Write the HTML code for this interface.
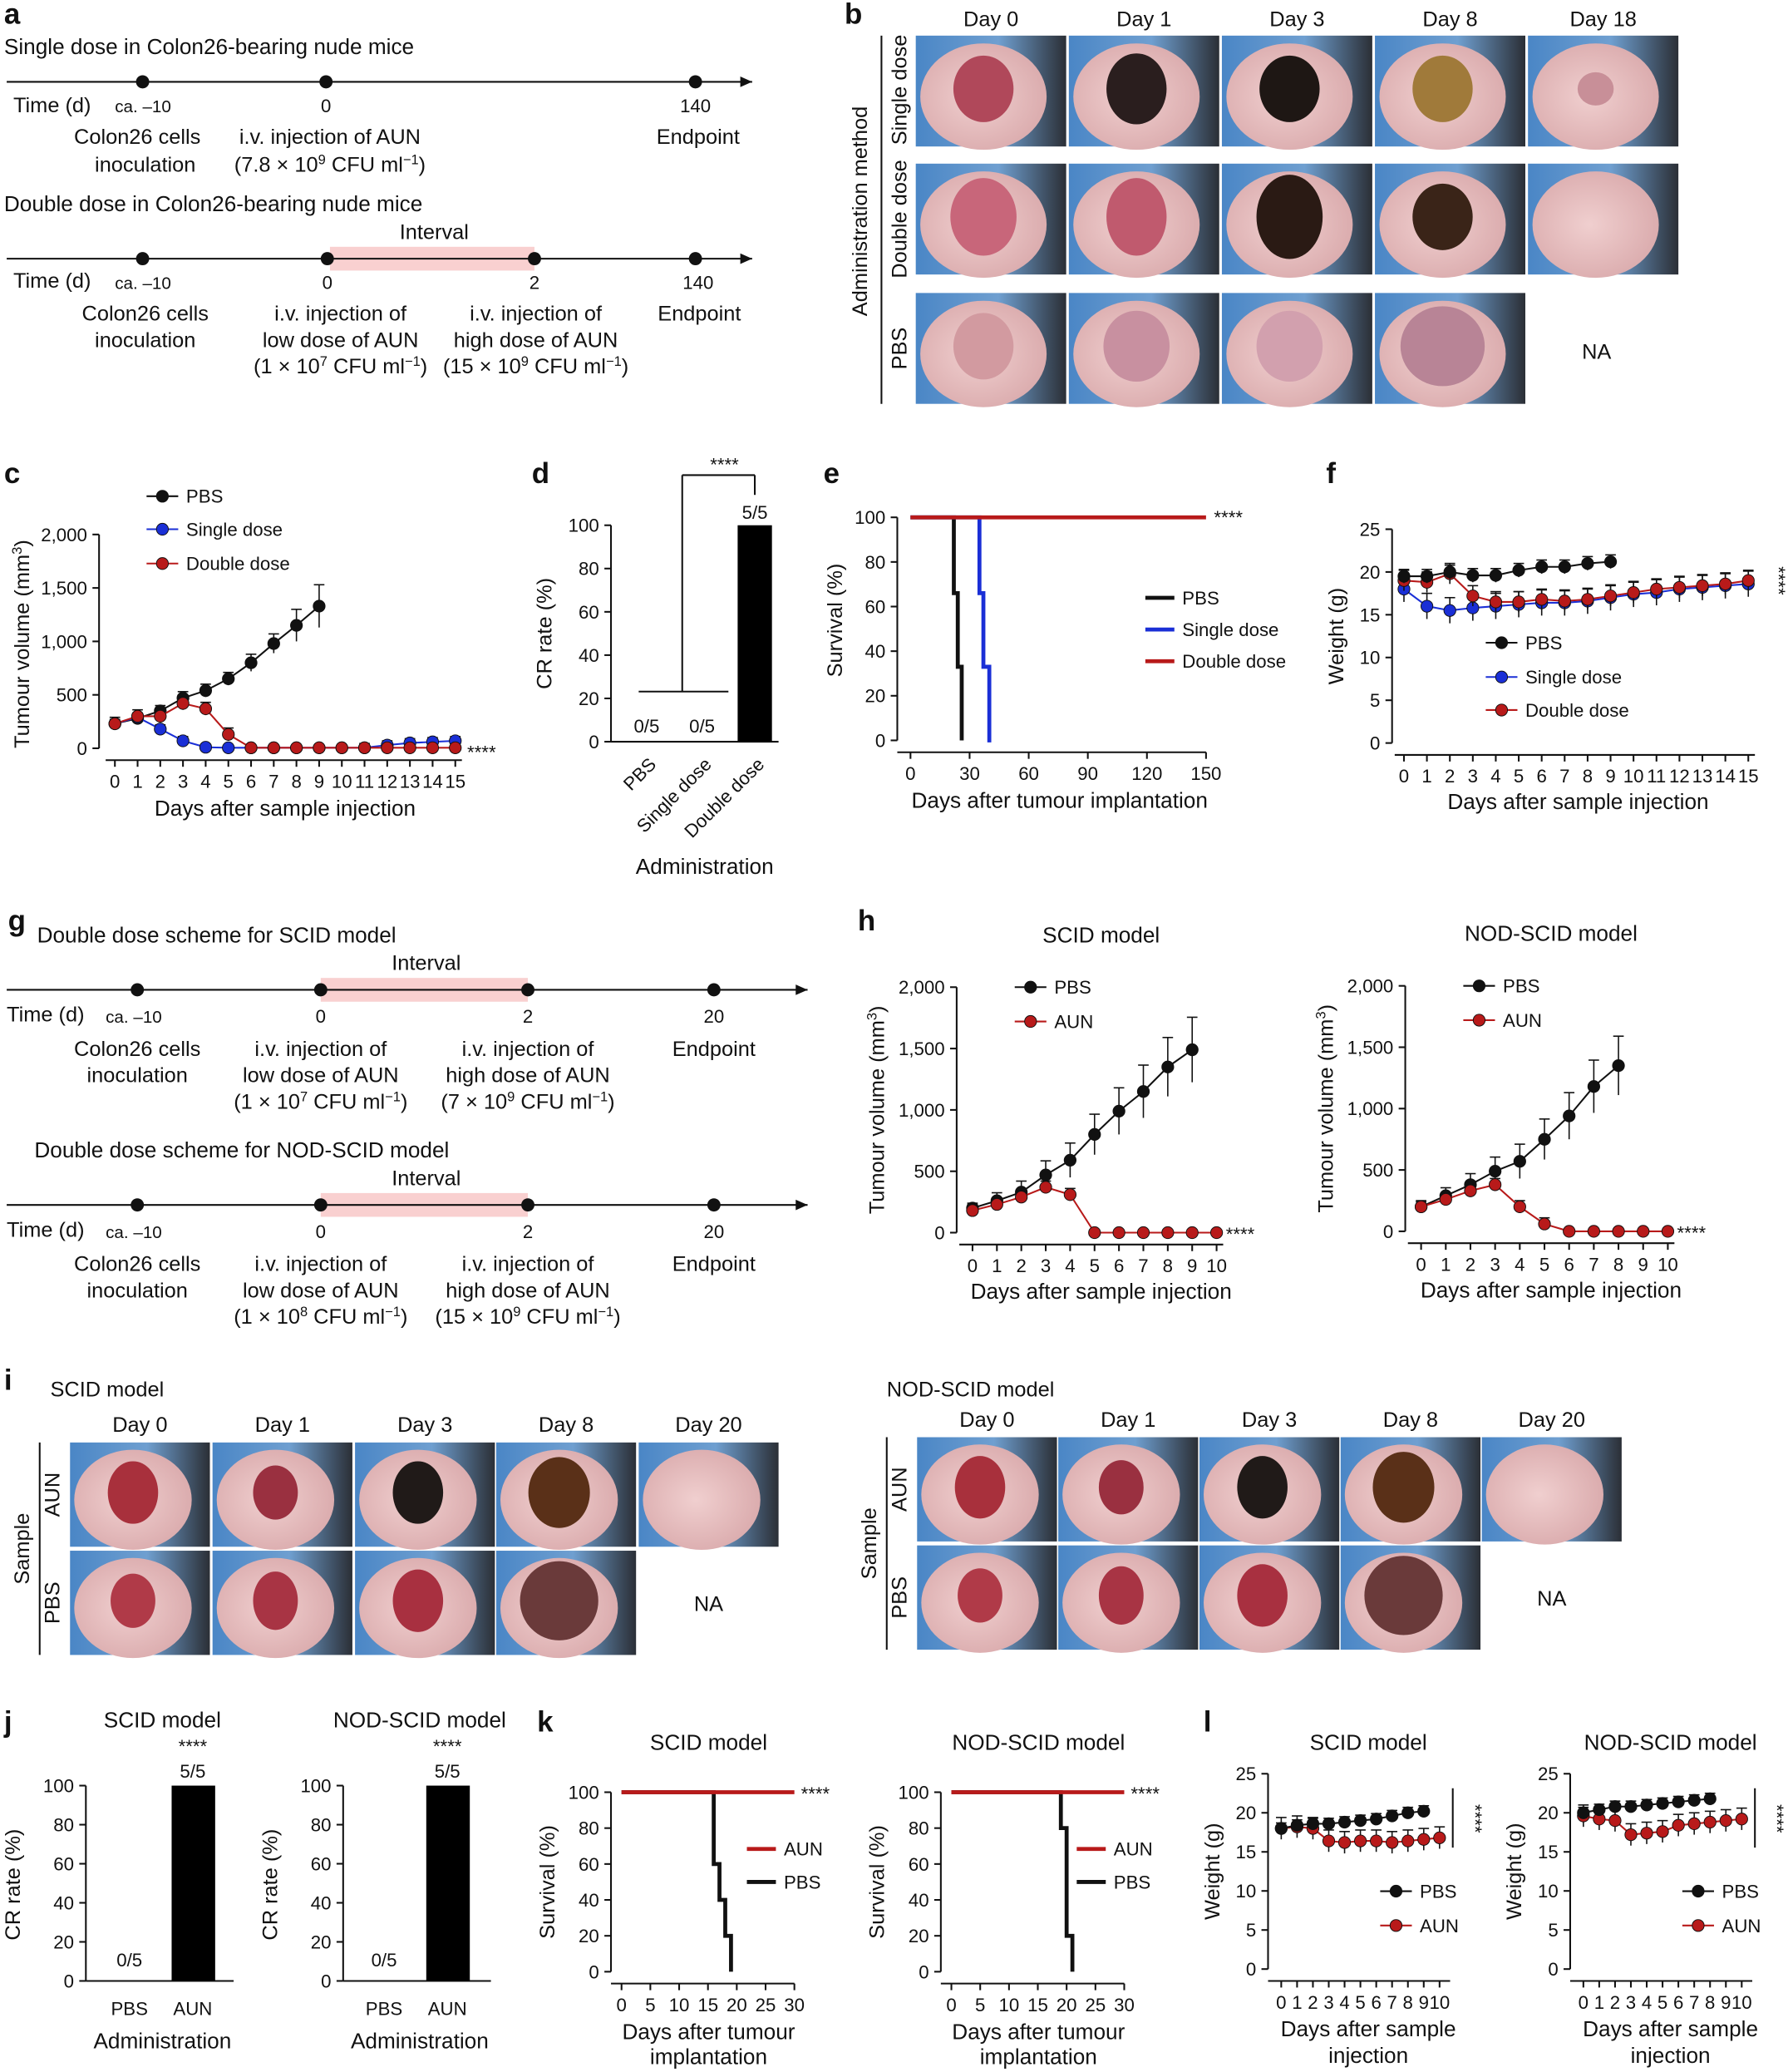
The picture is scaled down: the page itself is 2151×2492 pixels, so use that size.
<!DOCTYPE html>
<html><head><meta charset="utf-8">
<style>
html,body{margin:0;padding:0;background:#fff;}
svg{display:block;font-family:"Liberation Sans",sans-serif;}
</style></head>
<body>
<svg id="fig" width="2151" height="2492" viewBox="0 0 1355 1570" xmlns="http://www.w3.org/2000/svg">
<defs>
<linearGradient id="bg" x1="0" y1="0" x2="1" y2="0"><stop offset="0" stop-color="#4a86c6"/><stop offset="0.55" stop-color="#6f9fd0"/><stop offset="1" stop-color="#2b2f36"/></linearGradient>
<radialGradient id="skin" cx="0.45" cy="0.5" r="0.6"><stop offset="0" stop-color="#f0cfcf"/><stop offset="1" stop-color="#d9a9ab"/></radialGradient>
</defs>
</svg>
<script>
// ---------- data ----------
const daysC = [0,1,2,3,4,5,6,7,8,9,10,11,12,13,14,15];
const pbsC = [230,280,350,470,540,650,800,980,1150,1330];
const pbsCErr = [30,40,50,60,60,60,80,90,150,200];
const singleC = [230,290,180,70,10,5,5,5,5,5,5,5,30,50,60,70];
const doubleC = [230,300,300,420,370,130,5,5,5,5,5,5,5,5,5,5];
const crCats = ['PBS','Single dose','Double dose'];
const crVals = [0,0,100];
const crLabels = ['0/5','0/5','5/5'];
const survPBS_t = [0,22,24,26,150]; const survPBS_v = [100,66,33,0,0];
const survSingle_t = [0,35,37,40,41]; const survSingle_v = [100,66,33,0,0];
const survDouble_t = [0,150]; const survDouble_v = [100,100];
const wPBS = [19.5,19.5,20,19.6,19.6,20.2,20.6,20.6,21,21.2];
const wSingle = [18,16,15.5,15.8,16,16.2,16.4,16.4,16.6,17,17.4,17.6,18,18.2,18.4,18.6];
const wDouble = [19,18.8,19.8,17.2,16.5,16.5,16.8,16.6,16.8,17.2,17.6,18,18.2,18.4,18.6,19];
const hScidPBS = [200,260,330,470,590,800,990,1150,1350,1490];
const hScidAUN = [180,230,290,370,310,0,0,0,0,0,0];
const hNodPBS = [200,290,380,490,570,750,940,1180,1350];
const hNodAUN = [200,260,330,380,200,60,0,0,0,0,0];
const jVals = [0,100];
const jCats = ['PBS','AUN'];
const kScidPBS_t = [0,16,17,18,19,30]; const kScidPBS_v = [100,60,40,20,0,0];
const kNodPBS_t = [0,19,20,21,30]; const kNodPBS_v = [100,80,20,0,0];
const lScidPBS = [18,18.4,18.6,18.6,18.8,19,19.2,19.6,20,20.2];
const lScidAUN = [18,18.2,18,16.4,16.2,16.4,16.4,16.2,16.4,16.6,16.8];
const lNodPBS = [20,20.4,20.8,20.8,21,21.2,21.4,21.6,21.8];
const lNodAUN = [19.6,19.2,19,17.2,17.4,17.6,18.4,18.6,18.8,19,19.2];

const NS='http://www.w3.org/2000/svg';
const svg=document.getElementById('fig');
function E(tag,attrs,name){const e=document.createElementNS(NS,tag);for(const k in attrs)e.setAttribute(k,attrs[k]);


svg.appendChild(e);return e;}
function T(x,y,s,size,anchor,name,extra){const t=E('text',Object.assign({x:x,y:y,'font-size':size||16,'text-anchor':anchor||'start',fill:'#111'},extra||{}),name);t.textContent=s;return t;}
function L(x1,y1,x2,y2,name,w,c){return E('line',{x1,y1,x2,y2,stroke:c||'#111','stroke-width':w||1.3},name);}
function sup(x,y,parts,size,anchor,name){const t=E('text',{x:x,y:y,'font-size':size,'text-anchor':anchor||'start',fill:'#111'},name);
 parts.forEach(p=>{const ts=document.createElementNS(NS,'tspan');ts.textContent=p[0];if(p[1]){ts.setAttribute('baseline-shift','super');ts.setAttribute('font-size',size*0.65);}t.appendChild(ts);});return t;}

// panel letters
[['a',3,18],['b',640,18],['c',3,366],['d',403,366],['e',624,366],['f',1005,366],['g',6,705],['h',650,705],['i',3,1053],['j',3,1312],['k',407,1312],['l',912,1312]].forEach(p=>T(p[1],p[2],p[0],22,'start','panel-label-'+p[0],{'font-weight':'bold'}));

// ---------- timelines ----------
function timeline(y,x0,x1,dots,pink,labels,name){
 if(pink)E('rect',{x:pink[0],y:y-9,width:pink[1]-pink[0],height:18,fill:'#f9d0d0'},name+'-interval');
 L(x0,y,x1,y,name+'-axis',1.3);
 E('path',{d:`M${x1} ${y}l-9 -4v8z`,fill:'#111'},name+'-arrow');
 dots.forEach((d,i)=>E('circle',{cx:d,cy:y,r:5,fill:'#111'},name+'-dot-'+i));
}
T(3,41,'Single dose in Colon26-bearing nude mice',16.5,'start','a-title-single');
timeline(62,5,570,[108,247,527],null,null,'a-timeline-single');
T(10,85,'Time (d)',16,'start','a-time-label-1');T(87,85,'ca. –10',13,'start','a-tick-m10');T(247,85,'0',14,'middle','a-tick-0');T(527,85,'140',14,'middle','a-tick-140');
T(56,109,'Colon26 cells',16,'start','a-colon-1');T(110,130,'inoculation',16,'middle','a-inoc-1');
T(250,109,'i.v. injection of AUN',16,'middle','a-injection');sup(250,130,[['(7.8 × 10'],['9',1],[' CFU ml'],['−1',1],[')']],16,'middle','a-dose');
T(529,109,'Endpoint',16,'middle','a-endpoint-1');
T(3,160,'Double dose in Colon26-bearing nude mice',16.5,'start','a-title-double');
T(329,181,'Interval',16,'middle','a-interval');
timeline(196,5,570,[108,248,405,527],[250,405],null,'a-timeline-double');
T(10,218,'Time (d)',16,'start','a-time-label-2');T(87,219,'ca. –10',13,'start','a-tick2-m10');T(248,219,'0',14,'middle','a-tick2-0');T(405,219,'2',14,'middle','a-tick2-2');T(529,219,'140',14,'middle','a-tick2-140');
T(110,243,'Colon26 cells',16,'middle','a-colon-2');T(110,263,'inoculation',16,'middle','a-inoc-2');
T(258,243,'i.v. injection of',16,'middle','a-inj-low');T(258,263,'low dose of AUN',16,'middle','a-inj-low2');sup(258,283,[['(1 × 10'],['7',1],[' CFU ml'],['−1',1],[')']],16,'middle','a-dose-low');
T(406,243,'i.v. injection of',16,'middle','a-inj-high');T(406,263,'high dose of AUN',16,'middle','a-inj-high2');sup(406,283,[['(15 × 10'],['9',1],[' CFU ml'],['−1',1],[')']],16,'middle','a-dose-high');
T(530,243,'Endpoint',16,'middle','a-endpoint-2');

// ---------- photos ----------
function photo(x,y,w,h,tumor,name){
 E('rect',{x,y,width:w,height:h,fill:'url(#bg)'},name+'-bg');
 E('ellipse',{cx:x+w*0.45,cy:y+h*0.55,rx:w*0.42,ry:h*0.48,fill:'url(#skin)'},name+'-skin');
 if(tumor)E('ellipse',{cx:x+w*0.45,cy:y+h*0.48,rx:w*tumor[1],ry:h*tumor[2],fill:tumor[0]},name+'-tumour');
}
const bCols=[694,810,926,1042,1158];const bDays=['Day 0','Day 1','Day 3','Day 8','Day 18'];
bDays.forEach((d,i)=>T(bCols[i]+57,20,d,16,'middle','b-col-'+i));
const bT=[[['#b0485a',.2,.3],['#2a1e1e',.2,.32],['#1e1714',.2,.3],['#a07a3a',.2,.3],['#c88f98',.12,.15]],
 [['#c8667a',.22,.35],['#c05a6e',.2,.35],['#2a1a14',.22,.38],['#3a2418',.2,.3],null],
 [['#d29aa0',.2,.3],['#c890a0',.22,.32],['#d2a0ae',.22,.32],['#b88496',.28,.36],null]];
[27,124,222].forEach((y,r)=>bCols.forEach((x,c)=>{if(r==2&&c==4)return;photo(x,y,114,84,bT[r][c],`b-photo-r${r}-c${c}`);}));
T(1210,272,'NA',16,'middle','b-na');
T(657,160,'Administration method',16,'middle','b-ylabel',{transform:'rotate(-90 657 160)'});
L(668,27,668,306,'b-bracket',1.3);
T(687,68,'Single dose',16,'middle','b-row-single',{transform:'rotate(-90 687 68)'});
T(687,166,'Double dose',16,'middle','b-row-double',{transform:'rotate(-90 687 166)'});
T(687,264,'PBS',16,'middle','b-row-pbs',{transform:'rotate(-90 687 264)'});

// ---------- generic chart helpers ----------
function scale(v0,v1,p0,p1){return v=>p0+(v-v0)*(p1-p0)/(v1-v0);}
function yAxis(x,sy,ticks,labels,name,fs){L(x,sy(ticks[0]),x,sy(ticks[ticks.length-1]),name+'-line');
 ticks.forEach((t,i)=>{L(x-5,sy(t),x,sy(t),name+'-tick-'+i);T(x-9,sy(t)+5,labels[i],fs||14,'end',name+'-label-'+i);});}
function xAxis(y,sx,ticks,labels,name,fs,x0,x1){L(x0!==undefined?x0:sx(ticks[0]),y,x1!==undefined?x1:sx(ticks[ticks.length-1]),y,name+'-line');
 ticks.forEach((t,i)=>{L(sx(t),y,sx(t),y+5,name+'-tick-'+i);T(sx(t),y+21,labels[i],fs||14,'middle',name+'-label-'+i);});}
function series(vals,sx,sy,color,name,err){
 const pts=vals.map((v,i)=>[sx(i),sy(v)]);
 if(err)vals.forEach((v,i)=>{const e=err[i]||0;if(e){L(sx(i),sy(v-e),sx(i),sy(v+e),name+'-err-'+i,1);L(sx(i)-4,sy(v+e),sx(i)+4,sy(v+e),name+'-cap-'+i,1);}});
 E('polyline',{points:pts.map(p=>p.join(',')).join(' '),fill:'none',stroke:color,'stroke-width':1.3},name+'-line');
 pts.forEach((p,i)=>E('circle',{cx:p[0],cy:p[1],r:4.5,fill:color,stroke:'#111','stroke-width':0.6},name+'-point-'+i));
}
function step(ts,vs,sx,sy,color,name){let d=`M${sx(ts[0])} ${sy(vs[0])}`;
 for(let i=1;i<ts.length;i++){d+=` H${sx(ts[i])} V${sy(vs[i])}`;}
 E('path',{d,fill:'none',stroke:color,'stroke-width':3},name);}
function legDot(x,y,color,label,name,fs){L(x,y,x+24,y,name+'-line',1.3,color);E('circle',{cx:x+12,cy:y,r:4.5,fill:color,stroke:'#111','stroke-width':0.6},name+'-marker');T(x+30,y+5,label,fs||14,'start',name+'-text');}
function legLine(x,y,color,label,name,fs){L(x,y,x+22,y,name+'-line',3,color);T(x+28,y+5,label,fs||14,'start',name+'-text');}
const RED='#b81a1a',BLUE='#1a2fd6',BLK='#111';
const days=n=>Array.from({length:n},(_,i)=>i);

// ---------- c ----------
{const sx=scale(0,15,87,345),sy=scale(0,2000,567,405);
 yAxis(75,sy,[0,500,1000,1500,2000],['0','500','1,000','1,500','2,000'],'c-y-axis');
 xAxis(576,sx,daysC,daysC.map(String),'c-x-axis',14,80,350);
 series(pbsC,sx,sy,BLK,'c-pbs',pbsCErr);series(singleC,sx,sy,BLUE,'c-single',singleC.map((v,i)=>i>10?40:(i<4?40:0)));series(doubleC,sx,sy,RED,'c-double',doubleC.map((v,i)=>i<6?60:0));
 T(354,575,'****',14,'start','c-sig');
 sup(22,488,[['Tumour volume (mm'],['3',1],[')']],16,'middle','c-y-title').setAttribute('transform','rotate(-90 22 488)');
 T(216,618,'Days after sample injection',16.5,'middle','c-x-title');
 legDot(111,376,BLK,'PBS','c-legend-pbs');legDot(111,401,BLUE,'Single dose','c-legend-single');legDot(111,427,RED,'Double dose','c-legend-double');}

// ---------- d ----------
{const sy=scale(0,100,562,398);const bx=[490,532,572];
 yAxis(463,sy,[0,20,40,60,80,100],['0','20','40','60','80','100'],'d-y-axis');
 L(463,562,590,562,'d-x-axis');
 crVals.forEach((v,i)=>{if(v>0)E('rect',{x:bx[i]-13,y:sy(v),width:26,height:sy(0)-sy(v),fill:'#000'},'d-bar-'+i);T(bx[i],v>0?sy(v)-5:555,crLabels[i],14,'middle','d-count-'+i);
  T(bx[i]+8,580,crCats[i],14,'end','d-cat-'+i,{transform:`rotate(-45 ${bx[i]+8} 580)`});});
 L(484,524,552,524,'d-sig-bracket-h');L(517,524,517,360,'d-sig-bracket-v');L(517,360,572,360,'d-sig-top');L(572,360,572,375,'d-sig-down');
 T(549,357,'****',14,'middle','d-sig');
 T(418,480,'CR rate (%)',16,'middle','d-y-title',{transform:'rotate(-90 418 480)'});
 T(534,662,'Administration',16.5,'middle','d-x-title');}

// ---------- e ----------
{const sx=scale(0,150,690,914),sy=scale(0,100,561,392);
 yAxis(680,sy,[0,20,40,60,80,100],['0','20','40','60','80','100'],'e-y-axis');
 xAxis(570,sx,[0,30,60,90,120,150],['0','30','60','90','120','150'],'e-x-axis',14,680,914);
 step(survPBS_t.slice(0,4),survPBS_v.slice(0,4),sx,sy,BLK,'e-pbs');step(survSingle_t,survSingle_v,sx,sy,BLUE,'e-single');step(survDouble_t,survDouble_v,sx,sy,RED,'e-double');
 T(920,397,'****',14,'start','e-sig');
 T(638,470,'Survival (%)',16,'middle','e-y-title',{transform:'rotate(-90 638 470)'});
 T(803,612,'Days after tumour implantation',16.5,'middle','e-x-title');
 legLine(868,453,BLK,'PBS','e-legend-pbs');legLine(868,477,BLUE,'Single dose','e-legend-single');legLine(868,501,RED,'Double dose','e-legend-double');}

// ---------- f ----------
{const sx=scale(0,15,1064,1325),sy=scale(0,25,563,401);
 yAxis(1055,sy,[0,5,10,15,20,25],['0','5','10','15','20','25'],'f-y-axis');
 xAxis(572,sx,daysC,daysC.map(String),'f-x-axis',14,1057,1330);
 series(wSingle,sx,sy,BLUE,'f-single',wSingle.map(()=>1.5));series(wDouble,sx,sy,RED,'f-double',wDouble.map(()=>1.2));series(wPBS,sx,sy,BLK,'f-pbs',wPBS.map(()=>0.8));
 T(1343,440,'****',14,'middle','f-sig',{transform:'rotate(90 1343 440)'});
 T(1018,482,'Weight (g)',16,'middle','f-y-title',{transform:'rotate(-90 1018 482)'});
 T(1196,613,'Days after sample injection',16.5,'middle','f-x-title');
 legDot(1126,487,BLK,'PBS','f-legend-pbs');legDot(1126,513,BLUE,'Single dose','f-legend-single');legDot(1126,538,RED,'Double dose','f-legend-double');}

// ---------- g ----------
function gBlock(yt,title,lowExp,high,name){
 T(yt.tx,yt.ty,title,16.5,'start',name+'-title');T(323,yt.ly+2-17,'Interval',16,'middle',name+'-interval-label');
 timeline(yt.ly,5,612,[104,243,400,541],[243,400],null,name+'-timeline');
 const y=yt.ly;T(5,y+24,'Time (d)',16,'start',name+'-time');T(80,y+25,'ca. –10',13,'start',name+'-tm10');T(243,y+25,'0',14,'middle',name+'-t0');T(400,y+25,'2',14,'middle',name+'-t2');T(541,y+25,'20',14,'middle',name+'-t20');
 T(104,y+50,'Colon26 cells',16,'middle',name+'-colon');T(104,y+70,'inoculation',16,'middle',name+'-inoc');
 T(243,y+50,'i.v. injection of',16,'middle',name+'-low1');T(243,y+70,'low dose of AUN',16,'middle',name+'-low2');sup(243,y+90,[['(1 × 10'],[lowExp,1],[' CFU ml'],['−1',1],[')']],16,'middle',name+'-low3');
 T(400,y+50,'i.v. injection of',16,'middle',name+'-high1');T(400,y+70,'high dose of AUN',16,'middle',name+'-high2');sup(400,y+90,[['('+high+' × 10'],['9',1],[' CFU ml'],['−1',1],[')']],16,'middle',name+'-high3');
 T(541,y+50,'Endpoint',16,'middle',name+'-endpoint');}
gBlock({tx:28,ty:714,ly:750},'Double dose scheme for SCID model','7','7','g-scid');
gBlock({tx:26,ty:877,ly:913},'Double dose scheme for NOD-SCID model','8','15','g-nod');

// ---------- h ----------
function hChart(x0,xe,yb,yt,pbs,aun,title,name){const sx=scale(0,10,x0,xe),sy=scale(0,2000,yb,yt);
 yAxis(x0-12,sy,[0,500,1000,1500,2000],['0','500','1,000','1,500','2,000'],name+'-y-axis');
 xAxis(yb+9,sx,days(11),days(11).map(String),name+'-x-axis',14,x0-10,xe+5);
 series(pbs,sx,sy,BLK,name+'-pbs',pbs.map((v,i)=>40+i*25));series(aun,sx,sy,RED,name+'-aun',aun.map(v=>v>0?50:0));
 T(xe+7,yb+6,'****',14,'start',name+'-sig');
 T((x0+xe)/2+5,yt-34,title,16.5,'middle',name+'-title');
 sup(x0-67,yb-93,[['Tumour volume (mm'],['3',1],[')']],16,'middle',name+'-y-title').setAttribute('transform',`rotate(-90 ${x0-67} ${yb-93})`);
 T((x0+xe)/2+5,yb+50,'Days after sample injection',16.5,'middle',name+'-x-title');
 legDot(x0+32,yt,BLK,'PBS',name+'-legend-pbs');legDot(x0+32,yt+26,RED,'AUN',name+'-legend-aun');}
hChart(737,922,934,748,hScidPBS,hScidAUN,'SCID model','h-scid');
hChart(1077,1264,933,747,hNodPBS,hNodAUN,'NOD-SCID model','h-nod');

// ---------- i ----------
function iBlock(cols,r0,r1,w,h,title,tx,ty,dayLabels,name){
 T(tx,ty,title,16,'start',name+'-title');
 dayLabels.forEach((d,i)=>T(cols[i]+w/2,r0-8,d,16,'middle',name+'-day-'+i));
 const tA=[['#a8303c',.18,.3],['#9a3040',.16,.26],['#201a18',.18,.3],['#5a3018',.22,.34],null];
 const tP=[['#b03a48',.16,.26],['#a83444',.16,.28],['#a83040',.18,.3],['#6a3a3a',.28,.38]];
 cols.forEach((x,c)=>photo(x,r0,w,h,tA[c],`${name}-aun-photo-${c}`));
 cols.slice(0,4).forEach((x,c)=>photo(x,r1,w,h,tP[c],`${name}-pbs-photo-${c}`));
 T(cols[4]+w/2,r1+h/2+6,'NA',16,'middle',name+'-na');
 const bx=cols[0]-23;L(bx,r0,bx,r1+h,name+'-bracket');
 T(bx-8,(r0+r1+h)/2,'Sample',16,'middle',name+'-ylabel',{transform:`rotate(-90 ${bx-8} ${(r0+r1+h)/2})`});
 T(cols[0]-8,r0+h/2,'AUN',16,'middle',name+'-row-aun',{transform:`rotate(-90 ${cols[0]-8} ${r0+h/2})`});
 T(cols[0]-8,r1+h/2,'PBS',16,'middle',name+'-row-pbs',{transform:`rotate(-90 ${cols[0]-8} ${r1+h/2})`});}
iBlock([53,161,269,376,484],1093,1175,106,79,'SCID model',38,1058,['Day 0','Day 1','Day 3','Day 8','Day 20'],'i-scid');
iBlock([695,802,909,1016,1123],1089,1171,106,79,'NOD-SCID model',672,1058,['Day 0','Day 1','Day 3','Day 8','Day 20'],'i-nod');

// ---------- j ----------
function jChart(ax,bx,title,name){const sy=scale(0,100,1501,1353);
 yAxis(ax,sy,[0,20,40,60,80,100],['0','20','40','60','80','100'],name+'-y-axis');L(ax,1501,ax+112,1501,name+'-x-axis');
 jVals.forEach((v,i)=>{const x=bx[i];if(v>0)E('rect',{x:x-16,y:sy(v),width:33,height:sy(0)-sy(v),fill:'#000'},name+'-bar-'+i);
  T(x,v>0?sy(v)-6:1490,v>0?'5/5':'0/5',14,'middle',name+'-count-'+i);T(x,1527,jCats[i],14,'middle',name+'-cat-'+i);});
 T(bx[1],1328,'****',14,'middle',name+'-sig');T(ax+58,1309,title,16.5,'middle',name+'-title');
 T(ax-50,1428,'CR rate (%)',16,'middle',name+'-y-title',{transform:`rotate(-90 ${ax-50} 1428)`});
 T(ax+58,1552,'Administration',16.5,'middle',name+'-x-title');}
jChart(65,[98,146],'SCID model','j-scid');
jChart(260,[291,339],'NOD-SCID model','j-nod');

// ---------- k ----------
function kChart(x0,ts,vs,title,name){const sx=scale(0,30,x0,x0+131),sy=scale(0,100,1494,1358);
 yAxis(x0-8,sy,[0,20,40,60,80,100],['0','20','40','60','80','100'],name+'-y-axis');
 xAxis(1503,sx,[0,5,10,15,20,25,30],['0','5','10','15','20','25','30'],name+'-x-axis',14,x0-8,x0+131);
 step(ts.slice(0,ts.length-1),vs.slice(0,vs.length-1),sx,sy,BLK,name+'-pbs');step([0,30],[100,100],sx,sy,RED,name+'-aun');
 T(x0+136,1364,'****',14,'start',name+'-sig');T(x0+66,1326,title,16.5,'middle',name+'-title');
 T(x0-51,1426,'Survival (%)',16,'middle',name+'-y-title',{transform:`rotate(-90 ${x0-51} 1426)`});
 T(x0+66,1545,'Days after tumour',16.5,'middle',name+'-x-title-1');T(x0+66,1564,'implantation',16.5,'middle',name+'-x-title-2');
 legLine(x0+95,1401,RED,'AUN',name+'-legend-aun');legLine(x0+95,1426,BLK,'PBS',name+'-legend-pbs');}
kChart(471,kScidPBS_t,kScidPBS_v,'SCID model','k-scid');
kChart(721,kNodPBS_t,kNodPBS_v,'NOD-SCID model','k-nod');

// ---------- l ----------
function lChart(x0,pbs,aun,title,name){const sx=scale(0,10,x0,x0+120),sy=scale(0,25,1492,1344);
 yAxis(x0-10,sy,[0,5,10,15,20,25],['0','5','10','15','20','25'],name+'-y-axis');
 xAxis(1501,sx,days(11),['0','1','2','3','4','5','6','7','8','9','10'],name+'-x-axis',14,x0-10,x0+128);
 series(aun,sx,sy,RED,name+'-aun',aun.map(()=>1.4));series(pbs,sx,sy,BLK,name+'-pbs',pbs.map(()=>0.7));
 L(x0+130,1355,x0+130,1400,name+'-sig-bracket');T(x0+142,1378,'****',14,'middle',name+'-sig',{transform:`rotate(90 ${x0+142} 1378)`});
 T(x0+66,1326,title,16.5,'middle',name+'-title');
 T(x0-47,1418,'Weight (g)',16,'middle',name+'-y-title',{transform:`rotate(-90 ${x0-47} 1418)`});
 T(x0+66,1543,'Days after sample',16.5,'middle',name+'-x-title-1');T(x0+66,1563,'injection',16.5,'middle',name+'-x-title-2');
 legDot(x0+75,1433,BLK,'PBS',name+'-legend-pbs');legDot(x0+75,1459,RED,'AUN',name+'-legend-aun');}
lChart(971,lScidPBS,lScidAUN,'SCID model','l-scid');
lChart(1200,lNodPBS,lNodAUN,'NOD-SCID model','l-nod');
</script>
</body></html>
